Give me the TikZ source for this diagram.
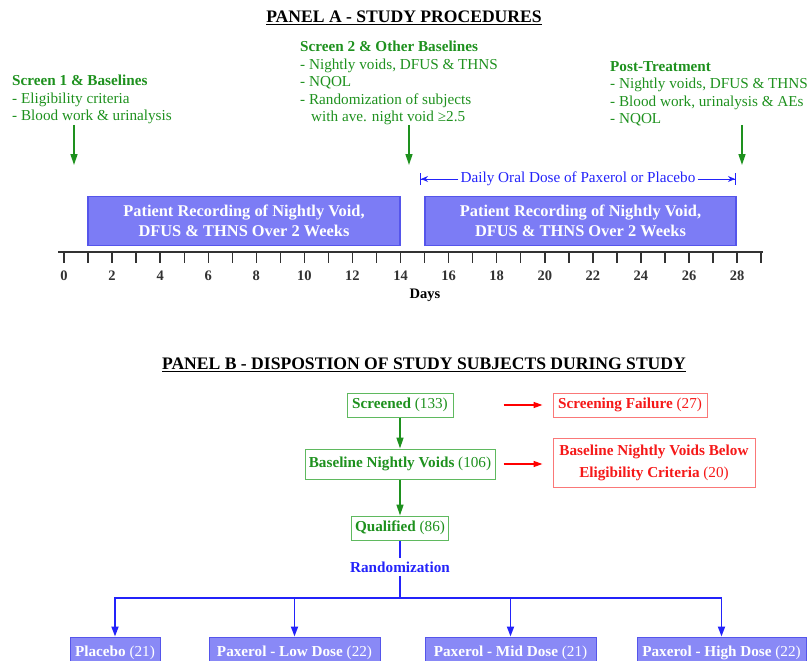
\documentclass[tikz,border=0pt]{standalone}
\usepackage{fontspec}
\setmainfont{Liberation Serif}
\usetikzlibrary{arrows.meta, positioning}

\definecolor{grn}{RGB}{30,145,30}
\definecolor{grnln}{RGB}{95,185,95}
\definecolor{redtx}{RGB}{245,25,25}
\definecolor{redln}{RGB}{250,120,120}
\definecolor{blu}{RGB}{35,35,250}
\definecolor{boxfill}{RGB}{124,124,245}
\definecolor{boxln}{RGB}{85,85,235}
\definecolor{axis}{RGB}{50,50,50}

\begin{document}
\begin{tikzpicture}[
    x=1pt, y=-1pt,
    t/.style={font=\fontsize{15.2}{17.5}\selectfont, text=grn, align=left, anchor=north west, inner sep=0pt},
    hd/.style={font=\fontsize{17.6}{19}\selectfont\bfseries, inner sep=0pt},
    r/.style={rectangle, draw=boxln, fill=boxfill, line width=1.5pt, text=white, font=\fontsize{16.4}{20}\selectfont\bfseries, align=center, minimum height=49pt},
    gb/.style={rectangle, draw=grnln, line width=1pt, text=grn, font=\fontsize{15.2}{18.5}\selectfont, minimum height=24pt, align=center},
    rb/.style={rectangle, draw=redln, line width=1pt, text=redtx, font=\fontsize{15.2}{22}\selectfont, minimum height=24pt, align=center},
    pb/.style={rectangle, draw=boxln, fill=boxfill!90, line width=1pt, text=white, font=\fontsize{15.2}{18}\selectfont, minimum height=32pt},
    ga/.style={-{Triangle[length=11pt,width=7pt]}, line width=1.5pt, grn},
    ra/.style={-{Triangle[length=9pt,width=6pt]}, line width=1.5pt, red},
    ba/.style={-{Triangle[length=10pt,width=7pt]}, line width=1.8pt, blu},
    bl/.style={line width=1.8pt, blu},
]
\clip (0,0) rectangle (807,661);

% Panel A
\node[hd] (ta) at (404,18) {\underline{PANEL A - STUDY PROCEDURES}};

\node[t] (s1) at (12,75) {\textbf{Screen 1 \& Baselines}\\- Eligibility criteria\\- Blood work \& urinalysis};
\node[t] (s2) at (300,41) {\textbf{Screen 2 \& Other Baselines}\\- Nightly voids, DFUS \& THNS\\- NQOL\\- Randomization of subjects\\\hspace*{11pt}with ave. night void ≥2.5};
\node[t] (post) at (610,61) {\textbf{Post-Treatment}\\- Nightly voids, DFUS \& THNS\\- Blood work, urinalysis \& AEs\\- NQOL};

\coordinate (a1) at (74,125);  \coordinate (b1) at (74,165);
\coordinate (a2) at (409,125); \coordinate (b2) at (409,165);
\coordinate (a3) at (742,125); \coordinate (b3) at (742,165);
\draw[ga] (a1) -- (b1);
\draw[ga] (a2) -- (b2);
\draw[ga] (a3) -- (b3);

\node[font=\fontsize{15.2}{17}\selectfont, text=blu, inner sep=2pt] (dose) at (578,179) {Daily Oral Dose of Paxerol or Placebo};
\coordinate (dl) at (420,179);
\coordinate (dr) at (736,179);
\draw[blu, line width=1pt, -{Stealth[length=7pt,width=6pt]Bar[width=12pt]}] (dose.west) -- (dl);
\draw[blu, line width=1pt, -{Stealth[length=7pt,width=6pt]Bar[width=12pt]}] (dose.east) -- (dr);

\node[r, minimum width=312pt] (rec1) at (244,221) {Patient Recording of Nightly Void,\\DFUS \& THNS Over 2 Weeks};
\node[r, minimum width=311pt] (rec2) at (580.5,221) {Patient Recording of Nightly Void,\\DFUS \& THNS Over 2 Weeks};

% time axis
\coordinate (ax0) at (58,252);
\coordinate (ax1) at (763,252);
\draw[axis, line width=2pt] (ax0) -- (ax1);
\foreach \d in {0,...,29}
    \draw[axis, line width=1.4pt] (64+24.04*\d,252) -- (64+24.04*\d,263);
\foreach \d in {0,2,...,28}
    \node[font=\fontsize{14.5}{16}\selectfont\bfseries, text=axis] at (64+24.04*\d,276) {\d};
\node[font=\fontsize{14.5}{16}\selectfont\bfseries] (days) at (425,295) {Days};

% Panel B
\node[hd] (tb) at (424,365) {\underline{PANEL B - DISPOSTION OF STUDY SUBJECTS DURING STUDY}};

\node[gb, minimum width=106pt] (scr) at (400,405) {\textbf{Screened} (133)};
\node[rb, minimum width=154pt] (fail) at (630,405) {\textbf{Screening Failure} (27)};
\node[gb, minimum width=190pt, minimum height=30pt] (base) at (400,464) {\textbf{Baseline Nightly Voids} (106)};
\node[rb, minimum width=202pt, minimum height=49pt] (below) at (654,463) {\textbf{Baseline Nightly Voids Below}\\\textbf{Eligibility Criteria} (20)};
\node[gb, minimum width=92pt] (qual) at (400,528) {\textbf{Qualified} (86)};
\node[font=\fontsize{15.2}{17}\selectfont\bfseries, text=blu] (rand) at (400,567) {Randomization};

\draw[ra] ([xshift=50pt]scr.east) -- ([xshift=-10pt]fail.west);
\draw[ra] ([xshift=8pt]base.east) -- ([xshift=-10pt]below.west |- base.east);
\draw[ga] (scr) -- (base);
\draw[ga] (base) -- (qual);

\node[pb, minimum width=90pt] (plac) at (115,653) {\textbf{Placebo} (21)};
\node[pb, minimum width=171pt] (low) at (294.5,653) {\textbf{Paxerol - Low Dose} (22)};
\node[pb, minimum width=171pt] (mid) at (510.5,653) {\textbf{Paxerol - Mid Dose} (21)};
\node[pb, minimum width=169pt] (high) at (721.5,653) {\textbf{Paxerol - High Dose} (22)};

\coordinate (split) at (400,598);
\draw[bl] (qual) -- (rand);
\draw[bl] (rand) -- (split);
\draw[ba] (split) -| (plac);
\draw[ba] (split) -| (low);
\draw[ba] (split) -| (mid);
\draw[ba] (split) -| (high);
\end{tikzpicture}
\end{document}
